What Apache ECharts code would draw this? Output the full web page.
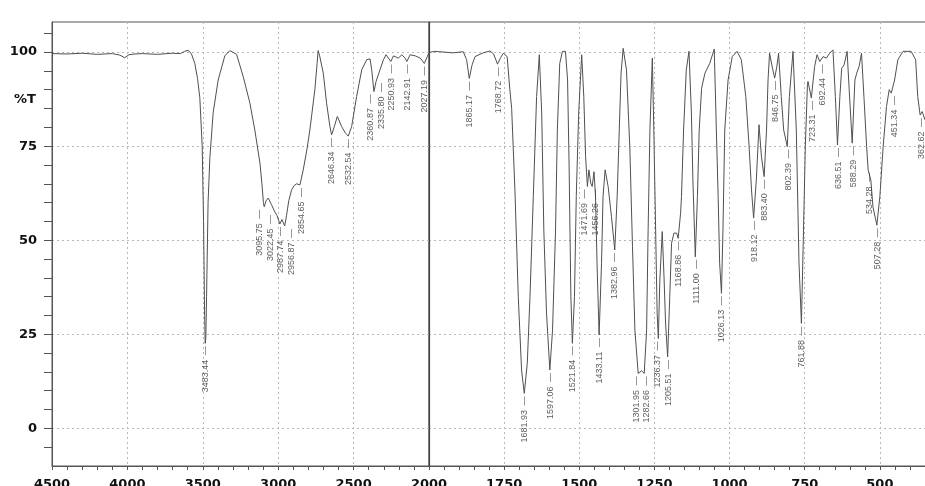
<!DOCTYPE html>
<html>
<head>
<meta charset="utf-8">
<script src="https://cdn.jsdelivr.net/npm/echarts@6/dist/echarts.min.js"></script>
<style>
html,body{margin:0;padding:0;background:#fff;}
#chart{width:925px;height:486px;}
</style>
</head>
<body>
<div id="chart"></div>
<script>
// ---- spectrum, high-wavenumber panel (4500-2000 cm-1) ----
const leftWn = [4500,4400,4300,4200,4100,4050,4018,3990,3950,3900,3800,3700,3650,3620,3597,3575,3553,3535,3520,3504,3495,3488,3484,3480,3475,3465,3453,3431,3398,3354,3321,3276,3232,3188,3155,3121,3108,3098,3093,3080,3066,3045,3022,3007,2989,2975,2968,2957,2945,2930,2911,2895,2878,2856,2834,2810,2790,2757,2742,2735,2725,2701,2679,2657,2646,2628,2608,2579,2555,2535,2513,2480,2446,2413,2391,2380,2365,2351,2340,2325,2302,2285,2269,2253,2236,2203,2180,2158,2147,2125,2091,2058,2031,2011,2000];
const leftT  = [99.6,99.5,99.7,99.4,99.6,99.2,98.5,99.3,99.5,99.6,99.4,99.7,99.6,100.2,100.5,99.5,97,93,88,75,55,30,22.6,24,35,60,72,84,92.6,99,100.4,99.4,93.5,86.5,79.3,70.5,65,60,58.9,60.5,61.2,59.5,57.5,56.5,54.3,55.5,55.5,53.8,56.5,60.5,63.4,64.5,65,64.7,68.7,74,79.3,90,97,100.4,99,94.4,86.4,80.2,78,80.2,82.9,80.2,78.5,77.7,80.2,88.2,95.3,98,98.2,95.3,89.5,92.2,92.6,95.3,98,99.3,98.4,97.5,99,98.4,99.3,98.4,97.5,99.3,99,98.4,97,98.8,99.9];

// ---- spectrum, low-wavenumber panel (2000-350 cm-1) ----
const rightWn = [2000,1980,1950,1920,1886,1875,1866,1857,1847,1820,1797,1785,1772,1762,1753,1740,1731,1725,1714,1703,1692,1683,1673,1664,1653,1642,1633,1625,1618,1609,1598,1589,1579,1573,1565,1556,1546,1539,1534,1528,1523,1516,1510,1502,1492,1485,1479,1473,1468,1462,1457,1451,1446,1441,1434,1426,1421,1414,1404,1393,1382,1374,1367,1361,1354,1343,1332,1323,1315,1304,1293,1284,1276,1271,1265,1257,1252,1246,1241,1237,1232,1224,1218,1213,1206,1199,1193,1185,1176,1171,1163,1160,1153,1144,1135,1127,1122,1114,1107,1101,1093,1082,1066,1051,1044,1038,1033,1027,1022,1016,1005,991,975,961,946,935,927,920,911,902,894,885,877,872,867,858,850,843,837,828,820,808,801,789,778,769,761,754,748,741,739,728,717,709,700,689,678,667,656,648,641,633,627,619,609,602,592,583,577,569,561,553,544,539,530,523,510,500,489,478,469,462,451,440,423,396,381,374,366,359,350];
const rightT  = [99.9,100.2,100,99.8,100.1,98,93,96.5,98.8,99.8,100.3,99.5,96.8,98.5,99.7,98.8,90,85,63,35,15.5,9.3,17.3,35,61.6,88.2,99.3,83.8,52.7,30.6,15.5,26.1,52.7,79.3,97,100.2,100.2,92.6,70.5,35,22.6,35,61.6,83.8,99.3,88.2,72.2,64.3,68.7,65.2,64.3,68.2,61.6,43.9,24.8,43.9,61.6,68.7,64.3,56.3,47.4,61.6,79.3,94.4,101,95.3,74.9,48.3,26.1,14.6,15.3,14.6,26.1,52.7,79.3,98.4,79.3,52.7,30.6,23.9,39.4,52.3,40,28,19,35,49.2,51.9,51.9,50.5,57.2,61.6,79.3,95.3,100.2,83.8,66,45.6,61.6,79.3,90.4,94.4,97,100.8,79.3,61.6,43.9,35.9,52.7,79.3,92.6,98.8,100.2,98,88.2,74.9,63.4,55.9,66,80.7,72.2,66.9,79.3,92.6,99.7,96,93.1,96,99.7,88.2,79.3,74.9,88.2,100.2,79.3,43.9,27.9,52.7,74.9,91.3,92.2,87.8,96.2,99.3,97.5,98.8,98.4,99.7,100.6,88.2,75.3,88.2,95.7,96.6,100.2,90,75.8,92.6,94.4,96.2,99.7,88.2,74.9,68.7,66,58.9,54,61.6,74.9,85.5,90,89.1,92.6,98,100.2,100.2,98,88.2,83.3,84.2,82];

// ---- labelled peaks ----
const peakWnLeft = [3483.44,3095.75,3022.45,2987.74,2956.87,2854.65,2646.34,2532.54,2360.87,2335.80,2250.93,2142.91,2027.19];
const peakTLeft  = [22.6,58.9,57.5,54.3,53.8,64.7,78,77.7,89.5,92.6,97.5,97.5,97];
const peakWnRight = [1865.17,1768.72,1681.93,1597.06,1521.84,1471.69,1456.26,1433.11,1382.96,1301.95,1282.66,1236.37,1205.51,1168.86,1111.00,1026.13,918.12,883.40,846.75,802.39,761.88,723.31,692.44,636.51,588.29,534.28,507.28,451.34,362.62];
const peakTRight  = [93,96.8,9.3,15.5,22.6,64.3,64.3,24.8,47.4,14.6,14.6,23.9,19,50.5,45.6,35.9,55.9,66.9,93.1,74.9,27.9,87.8,97.5,75.3,75.8,68.7,54,89.1,83.3];

// ---- axis ticks / labels ----
const yLabelValues = [0,25,50,75,100];
const yTickValues = [-5,0,5,10,15,20,25,30,35,40,45,50,55,60,65,70,75,80,85,90,95,100,105];

const zip = (a,b) => a.map((v,i) => [v, b[i]]);

const lineColor = '#505050';
const gridColor = '#b8b8b8';
const axisColor = '#555';
const tickFont = {color:'#111', fontSize:13, fontWeight:'bold', fontFamily:'DejaVu Sans, sans-serif'};
const LABEL_GAP = 10.5;   // min horizontal spacing between rotated peak labels (px)
const LABEL_LEN = 52;     // approx vertical extent of a rotated peak label (px)

const peakLabel = {
  show: true,
  position: 'bottom',
  distance: 3,
  rotate: 90,
  align: 'right',
  verticalAlign: 'middle',
  color: '#333',
  fontSize: 9,
  fontFamily: "'Liberation Sans', Arial, sans-serif",
  formatter: p => p.value[0].toFixed(2) + '\u2002\u2014'
};

const chart = echarts.init(document.getElementById('chart'), null, {renderer:'canvas'});
chart.setOption({
  backgroundColor: '#ffffff',
  animation: false,
  grid: [
    {left: 52, right: 496, top: 22, bottom: 20, show: true, borderColor: axisColor, borderWidth: 1, outerBoundsMode: 'none'},
    {left: 429, right: -30, top: 22, bottom: 20, show: true, borderColor: axisColor, borderWidth: 1, outerBoundsMode: 'none'}
  ],
  xAxis: [
    {type:'value', gridIndex:0, min:2000, max:4500, interval:500, inverse:true,
     axisLine:{show:true, onZero:false, lineStyle:{color:axisColor}},
     axisTick:{show:true, length:4, inside:false, lineStyle:{color:axisColor}},
     minorTick:{show:true, splitNumber:5, length:4, lineStyle:{color:axisColor}},
     axisLabel:Object.assign({margin:12, formatter: v => String(v)}, tickFont),
     splitLine:{show:true, lineStyle:{color:gridColor, type:[2,3], width:1}}},
    {type:'value', gridIndex:1, min:250, max:2000, interval:250, inverse:true,
     axisLine:{show:true, onZero:false, lineStyle:{color:axisColor}},
     axisTick:{show:true, length:4, lineStyle:{color:axisColor}},
     minorTick:{show:true, splitNumber:5, length:4, lineStyle:{color:axisColor}},
     axisLabel:Object.assign({margin:12, formatter: v => v === 2000 ? '' : String(v)}, tickFont),
     splitLine:{show:true, lineStyle:{color:gridColor, type:[2,3], width:1}}}
  ],
  yAxis: [
    {type:'value', gridIndex:0, min:-10, max:108,
     axisLine:{show:true, onZero:false, lineStyle:{color:axisColor}},
     axisTick:{show:true, length:8, customValues: yTickValues, lineStyle:{color:axisColor}},
     axisLabel:Object.assign({margin:15, customValues: yLabelValues}, tickFont),
     splitLine:{show:false}},
    {type:'value', gridIndex:0, min:-10, max:108, position:'left',
     axisLine:{show:false}, axisTick:{show:false, customValues: yLabelValues},
     axisLabel:{show:false, customValues: yLabelValues},
     splitLine:{show:true, lineStyle:{color:gridColor, type:[2,3], width:1}}},
    {type:'value', gridIndex:1, min:-10, max:108, position:'left',
     axisLine:{show:true, onZero:false, lineStyle:{color:'#444', width:1.2}},
     axisTick:{show:false, customValues: yLabelValues},
     axisLabel:{show:false, customValues: yLabelValues},
     splitLine:{show:true, lineStyle:{color:gridColor, type:[2,3], width:1}}}
  ],
  graphic: [
    {type:'text', left: 14, top: 93, style:{text:'%T', fill:'#111', font:'bold 13px "DejaVu Sans", sans-serif'}}
  ],
  series: [
    {type:'line', xAxisIndex:0, yAxisIndex:0, data: zip(leftWn, leftT), showSymbol:false,
     lineStyle:{color:lineColor, width:1}, silent:true, z:3},
    {type:'line', xAxisIndex:1, yAxisIndex:2, data: zip(rightWn, rightT), showSymbol:false,
     lineStyle:{color:lineColor, width:1}, silent:true, z:3},
    {type:'scatter', xAxisIndex:0, yAxisIndex:0, data: zip(peakWnLeft, peakTLeft),
     symbolSize:1, itemStyle:{color:'rgba(0,0,0,0)'}, label: peakLabel, silent:true, z:4},
    {type:'scatter', xAxisIndex:1, yAxisIndex:2, data: zip(peakWnRight, peakTRight),
     symbolSize:1, itemStyle:{color:'rgba(0,0,0,0)'}, label: peakLabel, silent:true, z:4}
  ]
});

// Spread crowded peak labels apart horizontally (only where they would overlap vertically)
function spreadLabels(wns, ts, finder) {
  const pts = wns.map((w,i) => {
    const p = chart.convertToPixel(finder, [w, ts[i]]);
    return {i, x0:p[0], y:p[1]};
  }).sort((a,b) => a.x0 - b.x0);
  let clusters = [];
  pts.forEach(p => {
    clusters.push({items:[p], sum:p.x0});
    let merged = true;
    while (merged && clusters.length > 1) {
      merged = false;
      const c = clusters[clusters.length-1], prev = clusters[clusters.length-2];
      const n1 = prev.items.length, n2 = c.items.length;
      const prevEnd = prev.sum/n1 + (n1-1)*LABEL_GAP/2;
      const curStart = c.sum/n2 - (n2-1)*LABEL_GAP/2;
      const a = prev.items[n1-1], b = c.items[0];
      if (curStart - prevEnd < LABEL_GAP && Math.abs(a.y - b.y) < LABEL_LEN) {
        clusters.pop(); clusters.pop();
        clusters.push({items: prev.items.concat(c.items), sum: prev.sum + c.sum});
        merged = true;
      }
    }
  });
  const dx = new Array(wns.length).fill(0);
  clusters.forEach(c => {
    const n = c.items.length, mid = c.sum/n;
    c.items.forEach((p,k) => { dx[p.i] = mid + (k - (n-1)/2)*LABEL_GAP - p.x0; });
  });
  return wns.map((w,i) => ({value:[w, ts[i]], label:{position:[0.5 + dx[i], 3.5]}}));
}

chart.setOption({
  series: [
    {}, {},
    {data: spreadLabels(peakWnLeft, peakTLeft, {xAxisIndex:0, yAxisIndex:0})},
    {data: spreadLabels(peakWnRight, peakTRight, {xAxisIndex:1, yAxisIndex:2})}
  ]
});
</script>
</body>
</html>
